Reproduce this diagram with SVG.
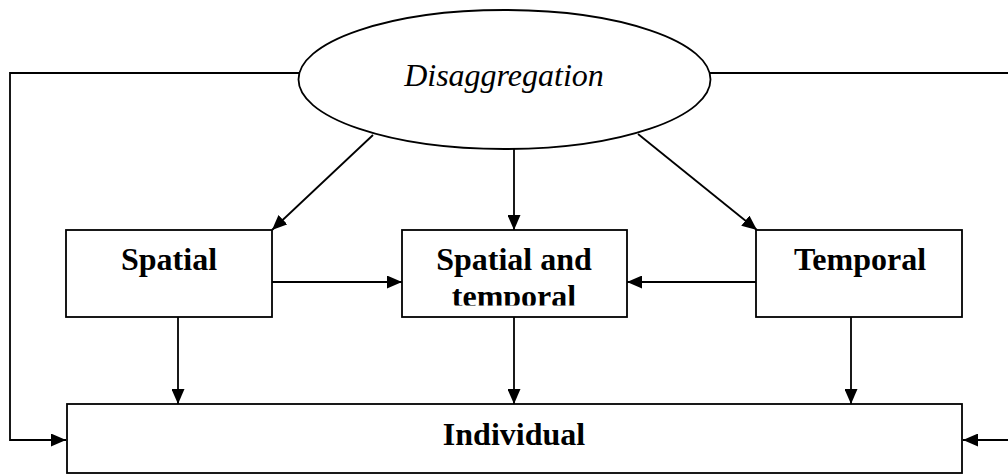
<svg xmlns="http://www.w3.org/2000/svg" width="1008" height="474" viewBox="0 0 1008 474">
<style>
.box{fill:#fff;stroke:#000;stroke-width:1.8}
.lbl{font-family:"Liberation Serif","Times New Roman",serif;font-weight:bold;font-size:32px;fill:#000;text-anchor:middle}
.ital{font-family:"Liberation Serif","Times New Roman",serif;font-style:italic;font-size:32px;fill:#000;text-anchor:middle}
.ln{fill:none;stroke:#000;stroke-width:1.8}
</style>
<defs>
<marker id="ah" viewBox="0 0 15 13" refX="15" refY="6.5" markerWidth="15" markerHeight="13" markerUnits="userSpaceOnUse" orient="auto">
<path d="M0,0 L15,6.5 L0,13 Z" fill="#000"/>
</marker>
<clipPath id="stclip"><rect x="402" y="230" width="225" height="75.5"/></clipPath>
</defs>
<rect width="1008" height="474" fill="#fff"/>
<g id="connectors">
<path class="ln" d="M299,73 H10 V440 H66" marker-end="url(#ah)"/>
<path class="ln" d="M710,73 H1008"/>
<path class="ln" d="M1008,440 H963" marker-end="url(#ah)"/>
<path class="ln" d="M373,135 L272,230" marker-end="url(#ah)"/>
<path class="ln" d="M514,149 V230" marker-end="url(#ah)"/>
<path class="ln" d="M638,134 L757,230" marker-end="url(#ah)"/>
<path class="ln" d="M272,282 H402" marker-end="url(#ah)"/>
<path class="ln" d="M756,282 H627" marker-end="url(#ah)"/>
<path class="ln" d="M178,317 V404" marker-end="url(#ah)"/>
<path class="ln" d="M514,317 V404" marker-end="url(#ah)"/>
<path class="ln" d="M851,317 V404" marker-end="url(#ah)"/>
</g>
<g id="disaggregation">
<ellipse class="box" cx="504.5" cy="79.5" rx="206" ry="69.5"/>
<text class="ital" x="504" y="86">Disaggregation</text>
</g>
<g id="spatial">
<rect class="box" x="66" y="230" width="206" height="87"/>
<text class="lbl" x="169" y="270">Spatial</text>
</g>
<g id="spatial-temporal">
<rect class="box" x="402" y="230" width="225" height="87"/>
<g clip-path="url(#stclip)">
<text class="lbl" x="514" y="270">Spatial and</text>
<text class="lbl" x="514" y="307">temporal</text>
</g>
</g>
<g id="temporal">
<rect class="box" x="756" y="230" width="206" height="87"/>
<text class="lbl" x="860" y="270">Temporal</text>
</g>
<g id="individual">
<rect class="box" x="67" y="404" width="895" height="69"/>
<text class="lbl" x="514" y="445">Individual</text>
</g>
</svg>
